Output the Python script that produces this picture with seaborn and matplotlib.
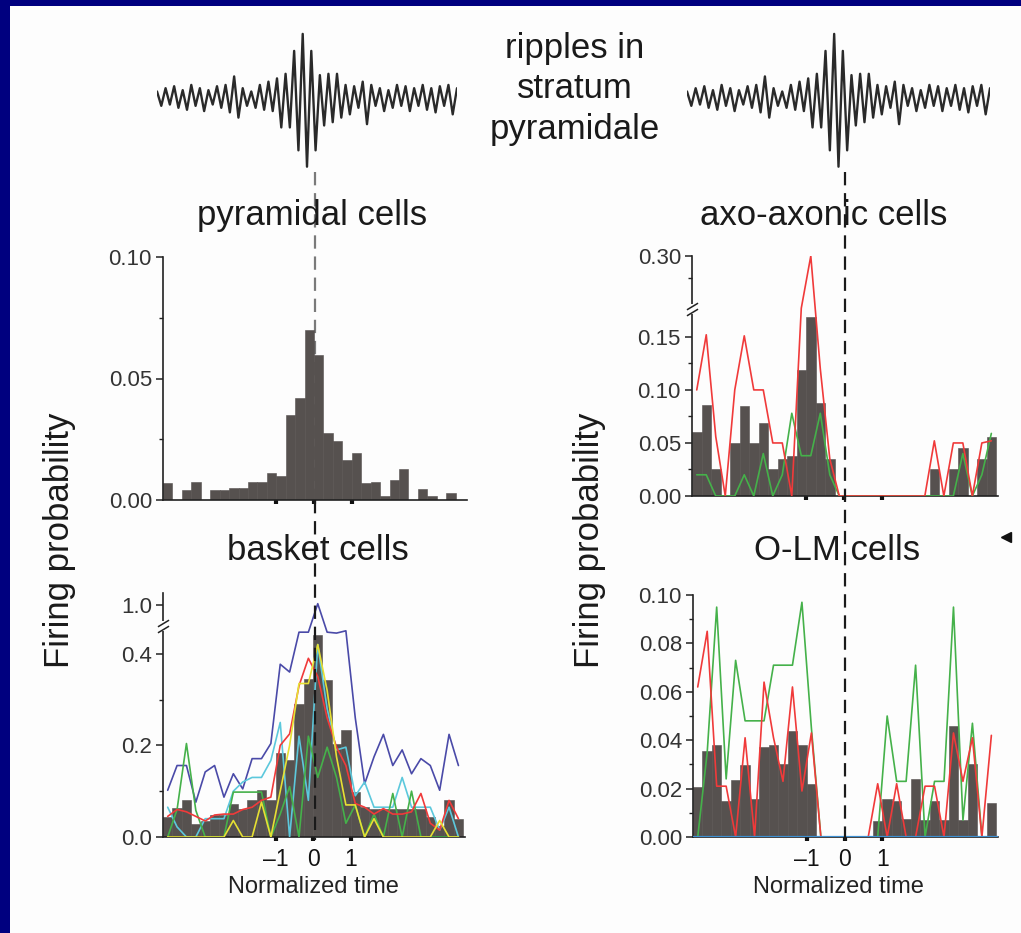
import numpy as np
import pandas as pd
import matplotlib
matplotlib.use('Agg')
import matplotlib.pyplot as plt
import seaborn as sns
from matplotlib.lines import Line2D
from matplotlib.patches import Rectangle
from matplotlib.transforms import ScaledTranslation

# ---------------- data ----------------
bin_edges = np.arange(-4, 4.001, 0.25)
bin_centers = bin_edges[:-1] + 0.125

pyramidal = [0.007, 0.0, 0.004, 0.0076, 0.0, 0.004, 0.004, 0.0048, 0.0048, 0.0076,
             0.0076, 0.011, 0.010, 0.035, 0.042, 0.070, 0.0597, 0.0276, 0.0244, 0.0166,
             0.0193, 0.0069, 0.0076, 0.0017, 0.0083, 0.0127, 0.0, 0.0046, 0.0017, 0.0,
             0.003, 0.0]

basket = [0.044, 0.063, 0.081, 0.028, 0.036, 0.047, 0.047, 0.071, 0.062, 0.081,
          0.102, 0.081, 0.183, 0.167, 0.29, 0.345, 0.44, 0.343, 0.202, 0.234,
          0.098, 0.065, 0.062, 0.062, 0.062, 0.062, 0.062, 0.062, 0.044, 0.025,
          0.08, 0.04]
basket_blue = [0.102, 0.156, 0.156, 0.076, 0.142, 0.156, 0.087, 0.138, 0.105, 0.171,
               0.171, 0.204, 0.377, 0.36, 0.447, 0.447, 1.03, 0.447, 0.445, 0.45,
               0.26, 0.116, 0.175, 0.224, 0.156, 0.19, 0.138, 0.171, 0.156, 0.102,
               0.224, 0.156]
basket_red = [0.045, 0.06, 0.055, 0.045, 0.035, 0.048, 0.05, 0.05, 0.06, 0.065,
              0.08, 0.087, 0.2, 0.225, 0.33, 0.39, 0.35, 0.26, 0.196, 0.156,
              0.073, 0.065, 0.05, 0.062, 0.05, 0.05, 0.055, 0.095, 0.03, 0.015,
              0.08, 0.04]
basket_yellow = [0.0, 0.0, 0.0, 0.0, 0.0, 0.0, 0.0, 0.036, 0.0, 0.0,
                 0.076, 0.0, 0.1, 0.2, 0.335, 0.335, 0.42, 0.32, 0.175, 0.07,
                 0.07, 0.0, 0.04, 0.0, 0.0, 0.0, 0.0, 0.0, 0.0, 0.036,
                 0.0, 0.0]
basket_cyan = [0.065, 0.022, 0.0, 0.0, 0.04, 0.04, 0.04, 0.10, 0.12, 0.13,
               0.13, 0.167, 0.25, 0.0, 0.22, 0.08, 0.42, 0.28, 0.19, 0.196,
               0.09, 0.12, 0.065, 0.065, 0.065, 0.13, 0.065, 0.065, 0.065, 0.015,
               0.065, 0.0]
basket_green = [0.0, 0.06, 0.204, 0.058, 0.0, 0.0, 0.0, 0.098, 0.098, 0.098,
                0.098, 0.0, 0.05, 0.11, 0.0, 0.22, 0.13, 0.196, 0.13, 0.03,
                0.07, 0.0, 0.05, 0.0, 0.095, 0.0, 0.10, 0.0, 0.0, 0.0,
                0.0, 0.0]

axo = [0.060, 0.086, 0.025, 0.0, 0.050, 0.085, 0.050, 0.069, 0.025, 0.035,
       0.038, 0.119, 0.169, 0.088, 0.035, 0.0, 0.0, 0.0, 0.0, 0.0,
       0.0, 0.0, 0.0, 0.0, 0.0, 0.025, 0.0, 0.025, 0.045, 0.0,
       0.035, 0.056]
axo_red = [0.10, 0.152, 0.056, 0.0, 0.10, 0.151, 0.10, 0.10, 0.05, 0.05,
           0.0, 0.18, 0.30, 0.12, 0.035, 0.0, 0.0, 0.0, 0.0, 0.0,
           0.0, 0.0, 0.0, 0.0, 0.0, 0.052, 0.0, 0.05, 0.05, 0.0,
           0.05, 0.052]
axo_green = [0.02, 0.02, 0.0, 0.0, 0.0, 0.02, 0.0, 0.04, 0.0, 0.02,
             0.078, 0.038, 0.038, 0.078, 0.02, 0.0, 0.0, 0.0, 0.0, 0.0,
             0.0, 0.0, 0.0, 0.0, 0.0, 0.0, 0.0, 0.0, 0.04, 0.0,
             0.02, 0.059]

olm = [0.0207, 0.0354, 0.038, 0.015, 0.0237, 0.0297, 0.0156, 0.037, 0.038, 0.030,
       0.044, 0.038, 0.0217, 0.0, 0.0, 0.0, 0.0, 0.0, 0.0, 0.0066,
       0.0159, 0.015, 0.0076, 0.024, 0.0072, 0.015, 0.0072, 0.046, 0.0072, 0.030,
       0.0, 0.014]
olm_red = [0.062, 0.085, 0.021, 0.021, 0.0, 0.041, 0.0, 0.064, 0.041, 0.023,
           0.062, 0.019, 0.043, 0.0, 0.0, 0.0, 0.0, 0.0, 0.0, 0.022,
           0.0, 0.022, 0.0, 0.0, 0.021, 0.021, 0.0, 0.043, 0.023, 0.041,
           0.0, 0.042]
olm_green = [0.0, 0.035, 0.095, 0.024, 0.073, 0.048, 0.048, 0.048, 0.071, 0.071,
             0.071, 0.097, 0.045, 0.0, 0.0, 0.0, 0.0, 0.0, 0.0, 0.0,
             0.05, 0.023, 0.023, 0.071, 0.0, 0.023, 0.023, 0.095, 0.007, 0.047,
             0.0, 0.0]

ripple = [0.1, -0.12, 0.15, -0.1, 0.18, -0.15, 0.12, -0.18, 0.2, -0.12, 0.15, -0.2, 0.12, -0.1,
          0.18, -0.15, 0.2, -0.22, 0.33, -0.3, 0.15, -0.12, 0.1, -0.15, 0.2, -0.18, 0.25, -0.2,
          0.3, -0.45, 0.37, -0.45, 0.72, -0.8, 0.98, -1.05, 0.72, -0.8, 0.35, -0.42, 0.37, -0.37,
          0.37, -0.3,
          0.2, -0.25, 0.18, -0.15, 0.25, -0.4, 0.2, -0.12, 0.15, -0.2, 0.12, -0.15, 0.2, -0.12,
          0.18, -0.2, 0.15, -0.12, 0.2, -0.18, 0.15, -0.22, 0.18, -0.12, 0.2, -0.25, 0.15]

xtick_vals = [-1, 0, 1]
xtick_labels = ['\u20131', '0', '1']

# ---------------- style ----------------
sns.set_style('ticks')
plt.rcParams['font.family'] = ['Liberation Sans', 'DejaVu Sans']

W, H = 1021, 933
fig = plt.figure(figsize=(W / 100, H / 100), dpi=100)
fig.patch.set_facecolor('#00007f')
fig.add_artist(Rectangle((10 / W, 0), 1 - 10 / W, 1 - 6 / H, transform=fig.transFigure,
                         facecolor='#fdfdfd', edgecolor='none', zorder=-10))

BAR = '#56514f'
RED = '#f03a3a'
GREEN = '#45b14a'
BLUE = '#4a4aa8'
CYAN = '#5cc8dc'
YELLOW = '#e6e033'
TICKC = '#333333'


def axes_px(x0, y0, x1, y1):
    return fig.add_axes([x0 / W, 1 - y1 / H, (x1 - x0) / W, (y1 - y0) / H])


def broken_scale(ax, b, k):
    def fwd(v):
        v = np.asarray(v, dtype=float)
        return np.where(v <= b, v, b + (v - b) * k)

    def inv(p):
        p = np.asarray(p, dtype=float)
        return np.where(p <= b, p, b + (p - b) / k)
    ax.set_yscale('function', functions=(fwd, inv))


def style(ax, yticks, ylabels, yminor, labels_x):
    ax.patch.set_alpha(0)
    sns.despine(ax=ax)
    for s in ('left', 'bottom'):
        ax.spines[s].set_color('#222222')
        ax.spines[s].set_linewidth(1.2)
    ax.set_xlim(-4, 4.05)
    ax.set_xticks(xtick_vals)
    ax.set_xticks([], minor=True)
    if labels_x:
        ax.set_xticklabels(xtick_labels)
    else:
        ax.set_xticklabels([])
    ax.tick_params(axis='x', direction='out', length=3, width=3, color='#111111',
                   labelsize=16.5, labelcolor='#111111', pad=5)
    ax.set_yticks(yticks)
    ax.set_yticklabels(ylabels)
    ax.set_yticks(yminor, minor=True)
    ax.tick_params(axis='y', which='major', direction='out', length=5, width=1.1,
                   color='#222222', labelsize=16, labelcolor=TICKC, pad=3)
    ax.tick_params(axis='y', which='minor', direction='out', length=3, width=1.0,
                   color='#222222')
    ax.set_xlabel('')
    ax.set_ylabel('')


def hist(ax, vals):
    df = pd.DataFrame({'t': bin_centers, 'p': vals})
    sns.barplot(data=df, x='t', y='p', native_scale=True, width=1.0, color=BAR,
                saturation=1, errorbar=None, ax=ax, linewidth=0.4, edgecolor=BAR, zorder=2)


def line(ax, vals, color):
    df = pd.DataFrame({'t': bin_centers, 'p': vals})
    sns.lineplot(data=df, x='t', y='p', ax=ax, color=color, linewidth=1.2, zorder=3,
                 legend=False)


def brk(ax, yv):
    tr = ax.get_yaxis_transform()
    ax.plot([0], [yv], marker='|', ms=7, mew=4, color='#fdfdfd', transform=tr,
            clip_on=False, zorder=6)
    for dy in (-2.2, 2.2):
        t = tr + ScaledTranslation(0, dy / 72, fig.dpi_scale_trans)
        ax.plot([0], [yv], marker=[(-1, -0.6), (1, 0.6)], ms=8, mec='#222222', mew=1.1,
                transform=t, clip_on=False, zorder=7)


# ---- pyramidal (top-left)
ax1 = axes_px(163, 257, 467, 500)
hist(ax1, pyramidal)
ax1.set_ylim(0, 0.10)
style(ax1, [0, 0.05, 0.10], ['0.00', '0.05', '0.10'], [0.025, 0.075], False)

# ---- axo-axonic (top-right)
ax2 = axes_px(692, 256, 998, 496)
broken_scale(ax2, 0.175, 0.41)
hist(ax2, axo)
line(ax2, axo_green, GREEN)
line(ax2, axo_red, RED)
ax2.set_ylim(0, 0.30)
style(ax2, [0, 0.05, 0.10, 0.15, 0.30], ['0.00', '0.05', '0.10', '0.15', '0.30'],
      [0.025, 0.075, 0.125, 0.25], False)
brk(ax2, 0.178)

# ---- basket (bottom-left)
ax3 = axes_px(163, 593, 465, 837)
broken_scale(ax3, 0.46, 0.0863)
hist(ax3, basket)
line(ax3, basket_blue, BLUE)
line(ax3, basket_cyan, CYAN)
line(ax3, basket_green, GREEN)
line(ax3, basket_red, RED)
line(ax3, basket_yellow, YELLOW)
ax3.set_ylim(0, 1.3)
style(ax3, [0, 0.2, 0.4, 1.0], ['0.0', '0.2', '0.4', '1.0'], [0.1, 0.3], True)
brk(ax3, 0.47)

# ---- O-LM (bottom-right)
ax4 = axes_px(693, 595, 998, 837)
hist(ax4, olm)
line(ax4, olm_green, GREEN)
line(ax4, olm_red, RED)
ax4.axhline(0, color='#3d8fd1', linewidth=1.6, zorder=4)
ax4.set_ylim(0, 0.10)
style(ax4, [0, 0.02, 0.04, 0.06, 0.08, 0.10], ['0.00', '0.02', '0.04', '0.06', '0.08', '0.10'],
      [0.01, 0.03, 0.05, 0.07, 0.09], True)

# ---- ripple traces
for (x0, x1) in ((157, 457), (687, 990)):
    rax = axes_px(x0, 28, x1, 168)
    rdf = pd.DataFrame({'i': np.arange(len(ripple)), 'v': ripple})
    sns.lineplot(data=rdf, x='i', y='v', ax=rax, color='#2a2a2a', linewidth=1.7,
                 legend=False, solid_joinstyle='round', solid_capstyle='round')
    rax.set_ylim(-1.07, 1.07)
    rax.set_xlim(0, len(ripple) - 1)
    rax.axis('off')


# ---- dashed reference lines (time 0)
def vline_px(x, y0, y1, color, z):
    fig.add_artist(Line2D([x / W, x / W], [1 - y0 / H, 1 - y1 / H], transform=fig.transFigure,
                          color=color, linewidth=1.6, dashes=(6, 3.5), zorder=z))


xl = (163 + 467) / 2
xr = (692 + 998) / 2 - 0.5
vline_px(xl, 172, 500, '#7a7a7a', -1)
vline_px(xl, 500, 840, '#1a1a1a', 5)
vline_px(xr, 172, 840, '#1a1a1a', 5)

# ---- texts
BIG = 25
fig.text(575 / W, 1 - 89 / H, 'ripples in\nstratum\npyramidale', ha='center', va='center',
         fontsize=BIG, linespacing=1.3, color='#1a1a1a')
fig.text(312 / W, 1 - 215 / H, 'pyramidal cells', ha='center', va='center', fontsize=BIG,
         color='#1a1a1a')
fig.text(824 / W, 1 - 215 / H, 'axo-axonic cells', ha='center', va='center', fontsize=BIG,
         color='#1a1a1a')
fig.text(318 / W, 1 - 550 / H, 'basket cells', ha='center', va='center', fontsize=BIG,
         color='#1a1a1a')
fig.text(837 / W, 1 - 550 / H, 'O-LM cells', ha='center', va='center', fontsize=BIG,
         color='#1a1a1a')
fig.text(60 / W, 1 - 540 / H, 'Firing probability', ha='center', va='center', rotation=90,
         fontsize=BIG, color='#1a1a1a')
fig.text(590 / W, 1 - 540 / H, 'Firing probability', ha='center', va='center', rotation=90,
         fontsize=BIG, color='#1a1a1a')
fig.text(313 / W, 1 - 887 / H, 'Normalized time', ha='center', va='center', fontsize=17,
         color='#222222')
fig.text(838 / W, 1 - 887 / H, 'Normalized time', ha='center', va='center', fontsize=17,
         color='#222222')

# small arrow marker at right edge
fig.add_artist(Line2D([1006 / W], [1 - 537 / H], marker='<', ms=7, color='#111111',
                      transform=fig.transFigure, linestyle='none'))

fig.savefig('out.png', dpi=100, facecolor=fig.get_facecolor())
